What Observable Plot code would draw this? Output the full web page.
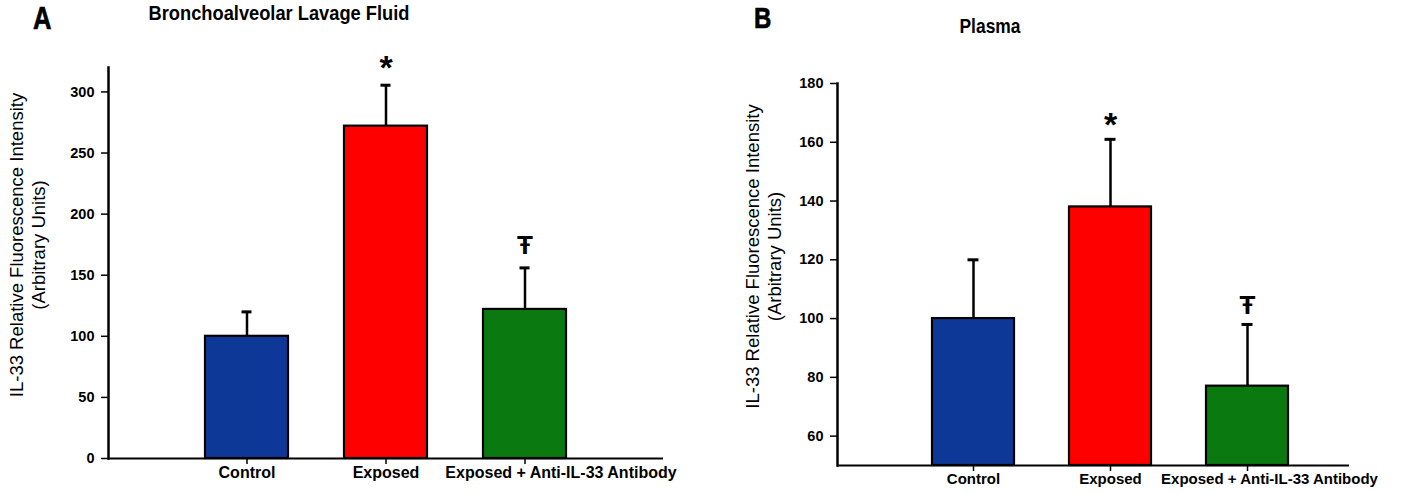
<!DOCTYPE html>
<html><head><meta charset="utf-8">
<script src="https://cdn.jsdelivr.net/npm/d3@7"></script>
<script src="https://cdn.jsdelivr.net/npm/@observablehq/plot@0.6"></script>
<style>
body{margin:0;background:#fff;}
#wrap{position:relative;width:1418px;height:493px;overflow:hidden;font-family:"Liberation Sans",Arial,sans-serif;}
.panel{position:absolute;top:0;width:709px;height:493px;}
.lbl{position:absolute;font-weight:bold;white-space:nowrap;color:#000;line-height:1;}
.big{-webkit-text-stroke:0.7px #000;}
</style></head><body>
<div id="wrap">
  <div class="panel" id="pa" style="left:0"></div>
  <div class="panel" id="pb" style="left:709px"></div>
  <div class="lbl big" id="la" style="left:33px;top:2px;font-size:32px;transform-origin:left center;transform:scaleX(0.8)"></div>
  <div class="lbl" id="ta" style="left:279px;top:2px;font-size:21px;transform:translateX(-50%) scaleX(0.87)"></div>
  <div class="lbl big" id="lb" style="left:754px;top:3px;font-size:30px;transform-origin:left center;transform:scaleX(0.8)"></div>
  <div class="lbl" id="tb" style="left:990px;top:15px;font-size:21px;transform:translateX(-50%) scaleX(0.83)"></div>
</div>
<script>
const categories = ["Control", "Exposed", "Exposed + Anti-IL-33 Antibody"];
const balfMean = [100, 272, 122];
const balfError = [20, 33.5, 34];
const plasmaMean = [100, 138, 77];
const plasmaError = [20, 23, 21];
const significance = ["", "*", "Ŧ"];
const barColors = ["#0e3898", "#ff0000", "#0a7a10"];
const balfTicks = [0, 50, 100, 150, 200, 250, 300];
const plasmaTicks = [60, 80, 100, 120, 140, 160, 180];
const yLabel = "IL-33 Relative Fluorescence Intensity\n(Arbitrary Units)";
const panelTitles = ["Bronchoalveolar Lavage Fluid", "Plasma"];
const panelLetters = ["A", "B"];

document.getElementById("la").textContent = panelLetters[0];
document.getElementById("lb").textContent = panelLetters[1];
document.getElementById("ta").textContent = panelTitles[0];
document.getElementById("tb").textContent = panelTitles[1];

const font = '"Liberation Sans", Arial, sans-serif';

function panel(o) {
  const data = categories.map((c, i) => ({cat: c, v: o.mean[i], hi: o.mean[i] + o.err[i], sig: significance[i], color: barColors[i]}));
  const capInset = (o.bw - 11) / 2;
  const longCat = categories[2];
  return Plot.plot({
    width: 709, height: 493,
    marginLeft: o.ml, marginRight: o.mr, marginTop: o.mt, marginBottom: o.mb,
    style: {fontFamily: font, color: "#000", background: "transparent", overflow: "visible"},
    x: {domain: categories, range: o.xRange, paddingInner: 0.4, paddingOuter: 0.2, label: null},
    y: {domain: o.domain, label: null},
    color: {type: "identity"},
    marks: [
      Plot.ruleX(data, {x: "cat", y1: "v", y2: "hi", stroke: "#000", strokeWidth: 2.5}),
      Plot.tickY(data, {x: "cat", y: "hi", stroke: "#000", strokeWidth: 3, insetLeft: capInset, insetRight: capInset}),
      Plot.barY(data, {x: "cat", y1: o.domain[0], y2: "v", fill: "color", stroke: "#000", strokeWidth: 2.2}),
      Plot.text(data.filter(d => d.sig === "*"), {x: "cat", y: "hi", text: "sig", dy: o.starDy, fontSize: 34, fontWeight: "bold", fill: "#000"}),
      Plot.text(data.filter(d => d.sig === "Ŧ"), {x: "cat", y: "hi", text: "sig", dy: o.tDy, fontSize: 26, fontWeight: "bold", fill: "#000"}),
      Plot.ruleY([o.domain[0]], {stroke: "#000", strokeWidth: 2}),
      Plot.frame({anchor: "left", stroke: "#000", strokeWidth: 2.5}),
      Plot.axisY({ticks: o.ticks, tickSize: 7, tickPadding: 7, fontSize: 14.5, fontWeight: "bold", stroke: "#000", strokeWidth: 1.5}),
      Plot.axisX({tickSize: 6, tickPadding: 2, fontSize: o.catFont, fontWeight: "bold", stroke: "#000", strokeWidth: 1.5,
        tickFormat: d => d === longCat ? "" : d}),
      Plot.axisX({ticks: [longCat], tickSize: 0, tickPadding: 8, dx: o.longDx, fontSize: o.catFont, fontWeight: "bold"}),
      Plot.text([yLabel], {frameAnchor: "left", rotate: -90, dx: o.labDx, dy: o.labDy, fontSize: 18.5, lineHeight: 1.2, textAnchor: "middle", lineAnchor: "middle", fill: "#000"})
    ]
  });
}

document.getElementById("pa").append(panel({
  mean: balfMean, err: balfError, ticks: balfTicks, domain: [0, 320],
  ml: 108, mr: 46, mt: 67, mb: 35, xRange: [176, 595], bw: 84,
  catFont: 16, longDx: 36, starDy: -17, tDy: -22, labDx: -82, labDy: -18
}));
document.getElementById("pb").append(panel({
  mean: plasmaMean, err: plasmaError, ticks: plasmaTicks, domain: [50, 180],
  ml: 128, mr: 69, mt: 83, mb: 28, xRange: [195.5, 606.5], bw: 82,
  catFont: 15, longDx: 22, starDy: -14, tDy: -19, labDx: -75, labDy: -18
}));
</script>
</body></html>
